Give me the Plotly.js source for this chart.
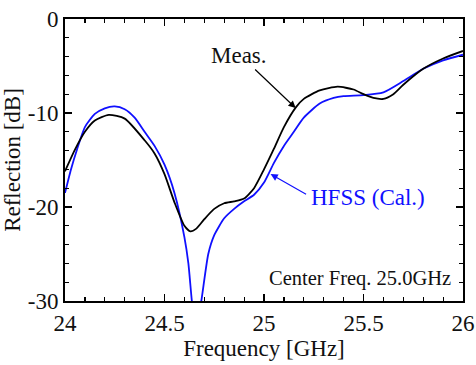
<!DOCTYPE html>
<html><head><meta charset="utf-8">
<script src="https://cdn.plot.ly/plotly-3.0.1.min.js"></script>
<style>html,body{margin:0;padding:0;background:#fff;}#c{width:476px;height:365px;}</style>
</head><body><div id="c"></div>
<script>
const measFreq = [24.0,24.05,24.1,24.15,24.22,24.3,24.4,24.45,24.5,24.55,24.6,24.63,24.66,24.7,24.75,24.8,24.85,24.9,24.95,25.0,25.05,25.1,25.16,25.2,25.28,25.37,25.45,25.5,25.55,25.6,25.65,25.7,25.8,25.9,26.0];
const measDb   = [-16.2,-13.9,-12.0,-10.8,-10.2,-10.6,-12.9,-14.3,-16.5,-19.5,-22.0,-22.6,-22.3,-21.3,-20.2,-19.6,-19.4,-19.1,-18.0,-16.0,-13.8,-11.5,-9.4,-8.5,-7.6,-7.2,-7.5,-8.0,-8.4,-8.5,-8.0,-7.0,-5.3,-4.2,-3.4];
const hfssFreq = [24.0,24.03,24.06,24.1,24.15,24.2,24.25,24.3,24.35,24.4,24.45,24.5,24.55,24.6,24.62,24.64,24.66,24.685,24.72,24.75,24.8,24.85,24.9,24.95,25.0,25.05,25.1,25.15,25.2,25.28,25.35,25.4,25.5,25.6,25.7,25.8,25.9,26.0];
const hfssDb   = [-18.5,-16.0,-13.9,-11.5,-10.1,-9.5,-9.3,-9.6,-10.5,-12.0,-13.5,-15.5,-18.5,-23.2,-26.0,-30.5,-33.0,-30.0,-25.0,-23.0,-21.2,-20.2,-19.4,-18.7,-17.4,-15.3,-13.5,-12.0,-10.5,-9.0,-8.4,-8.2,-8.1,-7.8,-6.6,-5.3,-4.4,-3.8];
const xTicks = [24, 24.5, 25, 25.5, 26];
const xTickText = ['24','24.5','25','25.5','26'];
const yTicks = [0, -10, -20, -30];
const yTickText = ['0','-10','-20','-30'];

const F = 'Liberation Serif, Times New Roman, serif';
const traces = [
  {x: hfssFreq, y: hfssDb, mode:'lines', line:{color:'#1010ff', width:1.8, shape:'spline', smoothing:0.6}, name:'HFSS (Cal.)'},
  {x: measFreq, y: measDb, mode:'lines', line:{color:'#000000', width:1.8, shape:'spline', smoothing:0.6}, name:'Meas.'}
];
const axBase = {showgrid:false, zeroline:false, showline:true, linecolor:'#000', linewidth:2, mirror:'ticks',
  ticks:'inside', ticklen:7, tickwidth:1.5, tickcolor:'#000', tickfont:{family:F, size:23, color:'#111'}};
const layout = {
  width:476, height:365, margin:{l:65, r:13, t:19, b:64}, paper_bgcolor:'#fff', plot_bgcolor:'#fff', showlegend:false,
  font:{family:F, color:'#111'},
  xaxis: Object.assign({}, axBase, {range:[24,26], tickvals:xTicks, ticktext:xTickText, ticklabelstandoff:0,
    minor:{dtick:0.1, tick0:24, ticks:'inside', ticklen:4, tickwidth:1.2, tickcolor:'#000'},
    title:{text:'Frequency [GHz]', font:{family:F, size:23, color:'#111'}, standoff:4}}),
  yaxis: Object.assign({}, axBase, {range:[-30,0], tickvals:yTicks, ticktext:yTickText, ticklabelstandoff:0,
    minor:{dtick:2, tick0:0, ticks:'inside', ticklen:4, tickwidth:1.2, tickcolor:'#000'},
    title:{text:'Reflection [dB]', font:{family:F, size:23, color:'#111'}, standoff:4}}),
  annotations:[
    {x:25.159, y:-9.47, xref:'x', yref:'y', ax:-42, ay:-40, showarrow:true, arrowhead:2, arrowsize:1.2, arrowwidth:1.2, arrowcolor:'#000', text:''},
    {x:24+(239-65)/198.5, y:-(55-19)/9.4, xref:'x', yref:'y', text:'Meas.', showarrow:false, font:{family:F, size:23, color:'#111'}},
    {x:25.033, y:-16.5, xref:'x', yref:'y', ax:37, ay:21, showarrow:true, arrowhead:2, arrowsize:1.2, arrowwidth:1.2, arrowcolor:'#1010ff', text:''},
    {x:24+(308-65)/198.5, y:-(197-19)/9.4, xref:'x', yref:'y', xanchor:'left', text:'HFSS (Cal.)', showarrow:false, font:{family:F, size:23, color:'#1010ff'}},
    {x:24+(452-65)/198.5, y:-(278-19)/9.4, xref:'x', yref:'y', xanchor:'right', text:'Center Freq. 25.0GHz', showarrow:false, font:{family:F, size:20.5, color:'#111'}}
  ]
};
Plotly.newPlot('c', traces, layout, {staticPlot:true});
</script></body></html>
